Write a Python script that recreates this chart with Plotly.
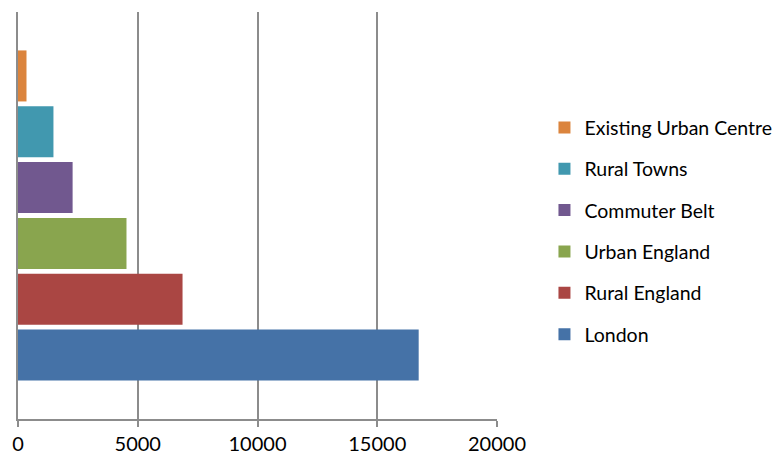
import plotly.graph_objects as go

# series in the order Excel plots them (first = bottom bar)
series = ["London", "Rural England", "Urban England", "Commuter Belt",
          "Rural Towns", "Existing Urban Centre"]
values = [16730, 6870, 4530, 2280, 1480, 355]
colors = ["#4572A7", "#AA4643", "#89A54E", "#71588F", "#4198AF", "#DB843D"]
category = ["Total"]
tick_vals = [0, 5000, 10000, 15000, 20000]
tick_text = ["0", "5000", "10000", "15000", "20000"]

fig = go.Figure()
for i, (name, val, col) in enumerate(zip(series, values, colors)):
    fig.add_trace(
        go.Bar(
            y=category,
            x=[val],
            name=name,
            orientation="h",
            marker=dict(color=col, line=dict(width=0)),
            legendgroup=name,
            legendrank=len(series) - i,
        )
    )

grid = "#8C8C8C"
# page body adds an 8px margin, so the figure is sized 8px smaller
fig.update_layout(
    width=773,
    height=451,
    barmode="group",
    bargap=0.177,
    bargroupgap=0.086,
    plot_bgcolor="white",
    paper_bgcolor="white",
    margin=dict(l=10, r=284, t=4, b=40),
    font=dict(family="Lato", size=19, color="#000000"),
    legend=dict(
        traceorder="grouped",
        tracegroupgap=13,
        xref="container",
        yref="container",
        x=0.694,
        y=0.505,
        xanchor="left",
        yanchor="middle",
        maxheight=451,
        font=dict(family="Lato", size=19.5, color="#000000"),
        itemwidth=30,
    ),
)
fig.update_xaxes(
    range=[0, 20000],
    tickvals=tick_vals,
    ticktext=tick_text,
    showgrid=True,
    gridcolor=grid,
    gridwidth=2,
    showline=True,
    linecolor=grid,
    linewidth=2,
    ticks="outside",
    ticklen=6,
    tickwidth=2,
    tickcolor=grid,
    zeroline=False,
    automargin=False,
    tickfont=dict(family="Lato", size=20, color="#000000"),
)
fig.update_yaxes(
    showticklabels=False,
    showgrid=False,
    showline=True,
    linecolor=grid,
    linewidth=2,
    ticks="",
    automargin=False,
)

fig.write_html("out.html")
